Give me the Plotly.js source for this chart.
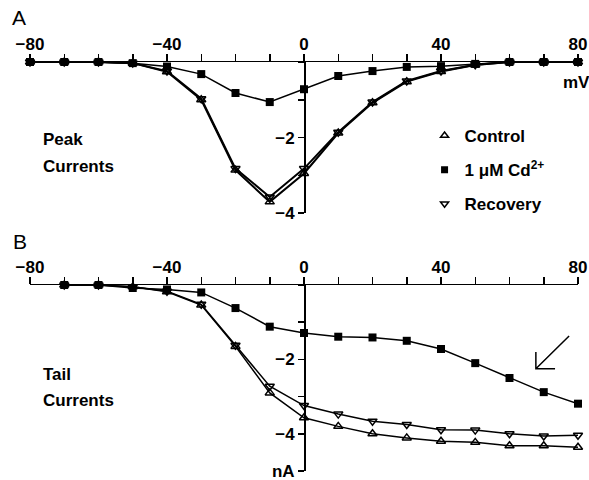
<!DOCTYPE html>
<html>
<head>
<meta charset="utf-8">
<script src="https://cdn.plot.ly/plotly-3.0.1.min.js"></script>
<style>html,body{margin:0;padding:0;background:#fff;}</style>
</head>
<body>
<div id="chart" style="width:589px;height:480px;"></div>
<script>
// ---- data (mV, nA) ----
var voltsA = [-80, -70, -60, -50, -40, -30, -20, -10, 0, 10, 20, 30, 40, 50, 60, 70, 80];
var peakControl  = [0, 0, 0, -0.03, -0.26, -1.0, -2.86, -3.7, -2.95, -1.88, -1.08, -0.52, -0.25, -0.08, 0, 0, 0];
var peakRecovery = [0, 0, 0, -0.03, -0.24, -0.97, -2.82, -3.57, -2.82, -1.86, -1.06, -0.5, -0.24, -0.07, 0, 0, 0];
var peakCd       = [0, 0, 0, -0.03, -0.12, -0.32, -0.82, -1.06, -0.72, -0.37, -0.24, -0.13, -0.11, -0.05, 0, 0, 0];

var voltsB = [-70, -60, -50, -40, -30, -20, -10, 0, 10, 20, 30, 40, 50, 60, 70, 80];
var tailControl  = [0, 0, -0.05, -0.18, -0.54, -1.65, -2.9, -3.57, -3.8, -4.0, -4.11, -4.2, -4.23, -4.32, -4.32, -4.36];
var tailRecovery = [0, 0, -0.05, -0.17, -0.52, -1.62, -2.72, -3.24, -3.47, -3.66, -3.75, -3.89, -3.9, -4.0, -4.06, -4.04];
var tailCd       = [0, 0, -0.08, -0.12, -0.2, -0.62, -1.12, -1.29, -1.39, -1.41, -1.5, -1.72, -2.1, -2.5, -2.88, -3.19];

var seriesNames = ['Control', '1 μM Cd<sup>2+</sup>', 'Recovery'];

var xTickVals = [-80, -40, 0, 40, 80];
var xTickText = ['−80', '−40', '0', '40', '80'];
var yTickValsA = [-2, -4];
var yTickTextA = ['−2', '−4'];
var yTickValsB = [-2, -4, -5];
var yTickTextB = ['−2', '−4', 'nA'];

// ---- styling ----
var FONT = 'Liberation Sans, Arial, sans-serif';
var txtFont = {family: FONT, size: 17, color: '#000', weight: 'bold'};
var panelFont = {family: FONT, size: 21, color: '#000'};
var triUp = {symbol: 'triangle-up-open', size: 8, color: '#000', line: {color: '#000', width: 1.5}};
var triDn = {symbol: 'triangle-down-open', size: 8, color: '#000', line: {color: '#000', width: 1.5}};
var sq = {symbol: 'square', size: 8, color: '#000', line: {color: '#000', width: 0}};

function tr(x, y, marker, lw, xa, ya) {
  return {x: x, y: y, type: 'scatter', mode: 'lines+markers', xaxis: xa, yaxis: ya,
          line: {color: '#000', width: lw}, marker: marker, cliponaxis: false, showlegend: false, hoverinfo: 'skip'};
}
function legendTr(name, marker, grp) {
  return {x: [null], y: [null], type: 'scatter', mode: 'markers', name: name, legendgroup: grp,
          marker: Object.assign({}, marker, {size: 7}), showlegend: true, xaxis: 'x', yaxis: 'y'};
}

var data = [
  tr(voltsA, peakCd, sq, 1.5, 'x', 'y'),
  tr(voltsA, peakRecovery, triDn, 2, 'x', 'y'),
  tr(voltsA, peakControl, triUp, 2, 'x', 'y'),
  tr(voltsB, tailCd, sq, 1.5, 'x2', 'y2'),
  tr(voltsB, tailRecovery, triDn, 1.5, 'x2', 'y2'),
  tr(voltsB, tailControl, triUp, 1.5, 'x2', 'y2'),
  legendTr(seriesNames[0], triUp, 'a'),
  legendTr(seriesNames[1], sq, 'b'),
  legendTr(seriesNames[2], triDn, 'c')
];

var W = 589, H = 480;
var xRange = [-80, 80];
var yRangeA = [-4.005, 0], yRangeB = [-5.005, 0];
var xDom = [0, 1];
var yDomA = [1 - 213.4 / H, 1 - 62 / H];
var yDomB = [1 - 471.2 / H, 1 - 285 / H];
var yPos = xDom[0] + (0 - xRange[0]) / (xRange[1] - xRange[0]) * (xDom[1] - xDom[0]);

function xAxis(anchor, dom) {
  return {domain: dom, range: xRange, anchor: anchor, side: 'top', showgrid: false, zeroline: false,
          showline: true, linecolor: '#000', linewidth: 1.5, ticks: 'outside', ticklen: 7, tickwidth: 1.5,
          tickcolor: '#000', tickvals: xTickVals, ticktext: xTickText, tickfont: txtFont,
          minor: {ticks: 'outside', ticklen: 7, tickwidth: 1.5, tickcolor: '#000', tick0: 0, dtick: 10, showgrid: false},
          ticklabelstandoff: -3, fixedrange: true};
}
function yAxis(dom, range, tv, tt) {
  return {domain: dom, range: range, anchor: 'free', position: yPos, side: 'left', showgrid: false,
          zeroline: false, showline: true, linecolor: '#000', linewidth: 1.5, ticks: 'outside', ticklen: 6,
          tickwidth: 1.5, tickcolor: '#000', tickvals: tv, ticktext: tt, tickfont: txtFont,
          minor: {ticks: 'outside', ticklen: 6, tickwidth: 1.5, tickcolor: '#000', tick0: 0, dtick: 1, showgrid: false},
          ticklabeloverflow: 'allow', fixedrange: true};
}

function note(text, px, py, font) {
  return {text: text, xref: 'paper', yref: 'paper', x: (px - 30) / (W - 41), y: 1 - py / H,
          xanchor: 'left', yanchor: 'middle', showarrow: false, font: font || txtFont};
}

// arrow in panel B (tail, tip corner, head arms) in panel-B axis units
var arrowTail = [77.4, -1.37], arrowTip = [67.7, -2.25];
var headUp = -1.8, headRight = 73.3;

var layout = {
  width: W, height: H,
  margin: {l: 30, r: 11, t: 0, b: 0},
  paper_bgcolor: '#fff', plot_bgcolor: 'rgba(0,0,0,0)',
  xaxis: xAxis('y', xDom),
  yaxis: yAxis(yDomA, yRangeA, yTickValsA, yTickTextA),
  xaxis2: xAxis('y2', xDom),
  yaxis2: yAxis(yDomB, yRangeB, yTickValsB, yTickTextB),
  showlegend: true,
  legend: {x: 0.72, y: 1 - 118 / H, xanchor: 'left', yanchor: 'top', bgcolor: 'rgba(0,0,0,0)',
           borderwidth: 0, font: txtFont, tracegroupgap: 9, itemclick: false, itemdoubleclick: false},
  annotations: [
    note('A', 10, 18, panelFont),
    note('B', 11, 241, panelFont),
    note('Peak', 41, 139),
    note('Currents', 41, 166),
    note('Tail', 41, 374),
    note('Currents', 41, 400),
    note('mV', 561, 82)
  ],
  shapes: [
    {type: 'path', xref: 'x2', yref: 'y2', line: {color: '#000', width: 1.5},
     path: 'M' + arrowTail[0] + ',' + arrowTail[1] + 'L' + arrowTip[0] + ',' + arrowTip[1] +
           'M' + arrowTip[0] + ',' + headUp + 'L' + arrowTip[0] + ',' + arrowTip[1] + 'L' + headRight + ',' + arrowTip[1]}
  ]
};

Plotly.newPlot('chart', data, layout, {displayModeBar: false, staticPlot: true});
</script>
</body>
</html>
